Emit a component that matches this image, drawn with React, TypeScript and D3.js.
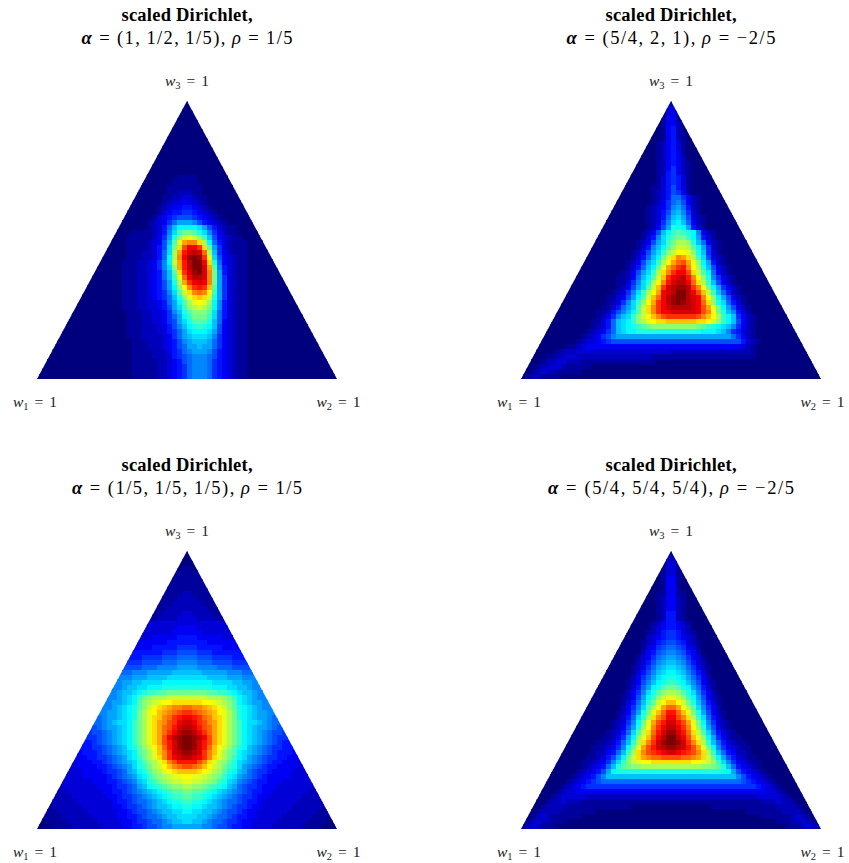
import React from "react";
import * as d3 from "d3";

// Heat levels, one base-36 digit per 5px cell (0 = navy ... z = dark red).
// Each row is written in groups of ten cells; "_" is ten navy cells.
const zeroRow = "_ _ _ _ _ _";
const panelATop = Array(15).fill(zeroRow);
const panelARows = [
  "_ _ 0000000011 1100000000 _ _","_ _ 0000000111 1100000000 _ _","_ _ 0000001111 1110000000 _ _","_ _ 0000001122 2110000000 _ _",
  "_ _ 0000011223 3211000000 _ _","_ _ 0000012334 3321000000 _ _","_ _ 0000123445 5432100000 _ _","_ _ 0000134556 6543210000 _ _",
  "_ _ 0001345677 7654321000 _ _","_ _ 00123468aa a975432100 _ _","_ _ 0012358bdd ddca753211 _ _","_ 0000000001 1112359cfh hgec964211 _ _",
  "_ 0000000011 111246aeik lkifb74321 1000000000 _","_ 0000000011 112347bglp qqnjd85321 1100000000 _","_ 0000000011 112357chns vvtnga6321 1100000000 _",
  "_ 0000000011 122358cjpu wxwrjb6421 1100000000 _","_ 0000000011 122358djqv yzytlc7432 1100000000 _","_ 0000000111 223469dkpu xzzvne8432 1100000000 _",
  "_ 0000000111 223469cipu xzzwpg9532 1100000000 _","_ 0000000111 223458bgnt wyzwqha532 1100000000 _","_ 0000000111 223458bflr vxxwqha632 1100000000 _",
  "_ 0000000111 223457aejp tvwvqha632 1100000000 _","_ 0000000111 223457adim qtutoga632 1100000000 _","_ 0000000111 2234569cgk nqrqmfa632 1100000000 _",
  "_ 0000000111 2234568bei lnonkea632 1100000000 _","_ 0000000111 2233458adg jlmlid9532 1100000000 _","_ 0000000111 2233457acf ijkjhd9532 1100000000 _",
  "_ 0000000011 12233469be giiigc8532 1100000000 _","_ 0000000011 12233468ad fhhhfc8532 1100000000 _","_ 0000000011 12233467ac egggeb8432 1100000000 _",
  "_ 0000000011 122233579b defedb7432 1100000000 _","_ 0000000011 122233568a cdddca7432 1100000000 _","_ 0000000011 122223468a bcccb96432 1100000000 _",
  "_ 0000000001 1122234579 abbba86432 1100000000 _","_ 0000000001 1122234578 aabaa86432 1100000000 _","_ 0000000001 1112224568 9aaa975432 1100000000 _",
  "_ 0000000001 1112223567 8999875432 1100000000 _","_ 0000000001 1111223457 8999865432 1100000000 _","_ 0000000001 1111223456 8999865432 1100000000 _",
  "_ 0000000001 1111223456 8999865432 1100000000 _","_ 0000000001 1111223456 8999865432 1100000000 _",
];

const panelBRows = [
  "_ _ 0000000002 2000000000 _ _","_ _ 0000000003 3000000000 _ _","_ _ 0000000003 4100000000 _ _","_ _ 0000000014 4100000000 _ _",
  "_ _ 0000000014 4200000000 _ _","_ _ 0000000014 5200000000 _ _","_ _ 0000000014 5210000000 _ _","_ _ 0000000014 5210000000 _ _",
  "_ _ 0000000124 5310000000 _ _","_ _ 0000000124 5310000000 _ _","_ _ 0000000124 5410000000 _ _","_ _ 0000000124 5420000000 _ _",
  "_ _ 0000000124 5421000000 _ _","_ _ 0000000124 6421000000 _ _","_ _ 0000000125 6421000000 _ _","_ _ 0000000135 6531000000 _ _",
  "_ _ 0000000135 6531000000 _ _","_ _ 0000001135 7531000000 _ _","_ _ 0000001235 7641000000 _ _","_ _ 0000001235 8864210000 _ _",
  "_ _ 0000001246 8974210000 _ _","_ _ 0000012346 9a85210000 _ _","_ _ 0000012357 ab96310000 _ _","_ _ 0000012358 bca7321000 _ _",
  "_ _ 0000012369 cdb8421000 _ _","_ _ 000001247a eeda531000 _ _","_ _ 00001247bd fgfed94210 _ _","_ _ 00001359ce ghhfda5310 _ _",
  "_ _ 0001247acf hjjieb8421 _ _","_ _ 0001359bdg ikkjgda621 _ _","_ _ 001247acfi kmmlieb631 _ _","_ _ 001358bdhk nqpnjfc732 1000000000 _",
  "_ _ 01247acfjm prsplida52 1000000000 _","_ _ 01358bdhlp rtuqmjeb74 2100000000 _","_ _ 1247acfjnq tvvsnkgd84 2100000000 _","_ 0000000001 1248bdgkot vwxuqmie96 4210000000 _",
  "_ 0000000001 1369cejmqu wxxvrnjfb7 4210000000 _","_ 0000000001 247acgkotw xyyxtqmhda 6421000000 _","_ 0000000012 369cfjmpvw xzzxvsokfb 8521000000 _","_ 0000000113 47adgkorvx yzzxwvqmid a742100000 _",
  "_ 0000000123 69cfimptvx yzyxwvrnie c853100000 _","_ 0000001135 8acgknqtvw xxxxwvsplh da74210000 _","_ 0000011257 9bdgknqtvv wwwwwvsqmh eb95310000 _",
  "_ 0000012469 bcfikmoqst tttttsqomj fdb6421000 _","_ 000011358b cdfijlmnno ooooonnmki fdb7421000 _","_ 000012358b cdefghiiii iiiiihgfed cb96421000 _",
  "_ 000123468b cddeeeeeee eeeeeedddc b965321000 _","_ 001234679a aaaaaaaaaa aaaaaaaaaa aa86421000 _","_ 0123345677 7777777777 7777777777 7777532100 _",
  "0000000001 1234444444 4444444444 4444444444 4444321000 _","0000000122 2333333333 3333333333 2222222222 2222221000 _","0000011223 3222222222 2222221111 1111111111 1111111000 _",
  "0000122332 2211111111 1111111000 _ _ _","0001223321 1111000000 _ _ _ _","0012322111 1100000000 _ _ _ _","0122111100 _ _ _ _ _",
];

// Panels C and D are symmetric about the apex: the left half of each row is listed.
const panelCHalf = [
  "_ _ 0000000000","_ _ 0000000000","_ _ 0000000000","_ _ 0000000001","_ _ 0000000111","_ _ 0000000111","_ _ 0000011111","_ _ 0000011111",
  "_ _ 0000011112","_ _ 0000111122","_ _ 0001111222","_ _ 0001112222","_ _ 0011122223","_ _ 0011222233","_ _ 0333333333","_ _ 0333333344",
  "_ _ 3333333444","_ _ 3334444455","_ 0000000004 4444445555","_ 0000000004 4445555566","_ 0000000055 5555566677","_ 0000000055 5666677788",
  "_ 0000000666 6777788899","_ 0000000777 78889999aa","_ 0000008889 99aaaaabbb","_ 000000999a aabbbbcccc","_ 0000099aab bccccddddd","_ 0000099abb ccdddeeeee",
  "_ 000099abbc deffgghhhh","_ 000999abcd fhijjjkkkk","_ 00099aabcd gijklmmnnn","_ 00999abcde gikmnopqqr","_ 0099aabcde hjlmopqrst","_ 0889aabcde hjlnoqrtuv",
  "_ 0889abccdf hjlnpqstvw","_ 7789aabcdf hjlnprsuwx","_ 67789abcdf hjlnprtvxy","0000000006 66789abcdf hjlnpsvxyz","0000000005 56789abcdf hjlnpsuwyz",
  "0000000055 566789abde gikmoruwyz","0000000045 556789abcd ghjloqtwxy","0000000444 5566789acd fhjlnqtvwx","0000000344 4556789abc egijlnqsuu",
  "0000003344 44556789ac efhjkmoqrs","0000033334 44456678ab degijlmnoo","0000033334 444456789a cdfhijkllm","0000233333 3444556789 bcefhijkkl",
  "0000233333 3344456678 abdefghiij","0002223333 3334455678 9abcdefggh","0002222333 3333445667 89abcdeffg","0012222233 3333345567 889abcdeef",
  "0012222223 3333344566 789abbcdde","0111222222 3333334456 7789abbccd","0111122222 2333334455 67889abbcc","0011112222 2233333445 667889abbc","0001111222 2223333445 5677899aaa",
];

const panelDHalf = [
  "_ _ 0000000001","_ _ 0000000002","_ _ 0000000003","_ _ 0000000013","_ _ 0000000013","_ _ 0000000014","_ _ 0000000014","_ _ 0000000014",
  "_ _ 0000000114","_ _ 0000000124","_ _ 0000000124","_ _ 0000000124","_ _ 0000000125","_ _ 0000000125","_ _ 0000001245","_ _ 0000002345",
  "_ _ 0000012356","_ _ 0000023456","_ _ 0000123567","_ _ 0000134678","_ _ 0000245789","_ _ 000134689a","_ _ 00023579ab","_ _ 0012468abc",
  "_ _ 0013579bcd","_ _ 002468acde","_ _ 012479bdef","_ _ 01358adegh","_ _ 02469cegij","_ _ 1247adfikl","_ _ 1358behkmo","_ _ 2469cgjmpr",
  "_ 0000000001 247aehloru","_ 0000000001 358cfjnqsv","_ 0000000012 369dhlpsuw","_ 0000000012 47aeimqtvx","_ 0000000123 58cgknruwy","_ 0000001124 6adilosvxz",
  "_ 0000011235 8bfjnqtwyz","_ 0000112346 9dhlpsuwxy","_ 0000122458 bfjnqstuvw","_ 000112357a dhknpqrrss","_ 001123469c fiklmmnnnn","_ 00123458be ghiijjjjjj",
  "_ 0123457ade eeeeeeeeee","_ 1234579bbb bbbbbbbbbb","0000000001 2345678888 8888888888","0000000012 3456666666 6666666666","0000000123 3444444444 4444444444",
  "0000001233 3332222222 2222222222","0000012232 2211111111 1111111111","0000122221 1111111111 1100000000","0001222211 1111100000 _","0012321111 1100000000 _",
  "0123221110 _ _","1232111000 _ _",
];

const panelTitle = "scaled Dirichlet,";
const alphaTexts = ["(1,\u20091/2,\u20091/5),\u2009", "(5/4,\u20092,\u20091),\u2009", "(1/5,\u20091/5,\u20091/5),\u2009", "(5/4,\u20095/4,\u20095/4),\u2009"];
const rhoTexts = ["1/5", "\u22122/5", "1/5", "\u22122/5"];
const subtitleWidths = [211, 209, 230, 246];
const vertexLabels = [
  { sub: "1", at: "left" },
  { sub: "2", at: "right" },
  { sub: "3", at: "top" },
];
const columnCount = 60;
const rowCount = 56;

const cellsOf = (row: string): number[] =>
  row.split(" ").flatMap((g) => (g === "_" ? Array(10).fill(0) : [...g].map((c) => parseInt(c, 36))));
const fullRow = (row: string) => cellsOf(row).concat(Array(columnCount).fill(0)).slice(0, columnCount);
const mirrored = (row: string) => {
  const half = cellsOf(row);
  return [...half, ...[...half].reverse()];
};

const matrices: number[][][] = [
  [...panelATop, ...panelARows].map(fullRow),
  panelBRows.map(fullRow),
  panelCHalf.map(mirrored),
  panelDHalf.map(mirrored),
];

const jet = d3
  .scaleLinear<string>()
  .domain([0, 0.125, 0.375, 0.625, 0.875, 1])
  .range(["#00007f", "#0000ff", "#00ffff", "#ffff00", "#ff0000", "#7f0000"]);

const panelW = 300;
const panelH = 278;
const colScale = d3.scaleBand<number>().domain(d3.range(columnCount)).range([0, panelW]);
const rowScale = d3.scaleBand<number>().domain(d3.range(rowCount)).range([0, panelH]);
const origins = [
  [37, 101],
  [521, 101],
  [37, 551],
  [521, 551],
];
const serif = "'Liberation Serif', 'Times New Roman', serif";

function Panel({ index }: { index: number }) {
  const [ox, oy] = origins[index];
  const cx = panelW / 2;
  const matrix = matrices[index];
  const id = `tri-${index}`;
  return (
    <g transform={`translate(${ox},${oy})`} fontFamily={serif} fill="#000">
      <text x={cx} y={-80} textAnchor="middle" fontWeight="bold" fontSize={18.5} textLength={131} lengthAdjust="spacing">
        {panelTitle}
      </text>
      <text x={cx} y={-57.5} textAnchor="middle" fontSize={18.5} textLength={subtitleWidths[index]} lengthAdjust="spacing">
        <tspan fontWeight="bold" fontStyle="italic">α</tspan>
        <tspan>{" = " + alphaTexts[index]}</tspan>
        <tspan fontStyle="italic">ρ</tspan>
        <tspan>{" = " + rhoTexts[index]}</tspan>
      </text>
      {vertexLabels.map((v) => {
        const x = v.at === "left" ? -2 : v.at === "right" ? panelW + 1.5 : cx;
        const y = v.at === "top" ? -15 : panelH + 27.5;
        return (
          <text key={v.sub} x={x} y={y} textAnchor="middle" fontSize={15.5} fill="#222">
            <tspan fontStyle="italic">w</tspan>
            <tspan fontSize={10.5} dy={3}>{v.sub}</tspan>
            <tspan dy={-3} dx={6}>=</tspan>
            <tspan dx={6}>1</tspan>
          </text>
        );
      })}
      <clipPath id={id}>
        <polygon points={`${cx},0 ${panelW},${panelH} 0,${panelH}`} />
      </clipPath>
      <g clipPath={`url(#${id})`}>
        {matrix.map((row, r) =>
          row.map((v, c) => (
            <rect
              key={c}
              x={colScale(c)}
              y={rowScale(r)}
              width={colScale.bandwidth() + 0.5}
              height={rowScale.bandwidth() + 0.5}
              fill={jet(v / 35)}
              shapeRendering="crispEdges"
            />
          ))
        )}
      </g>
    </g>
  );
}

export default function App() {
  return (
    <svg width={849} height={863} style={{ position: "absolute", left: 0, top: 0, background: "#fff" }}>
      {origins.map((_, i) => (
        <Panel key={i} index={i} />
      ))}
    </svg>
  );
}
